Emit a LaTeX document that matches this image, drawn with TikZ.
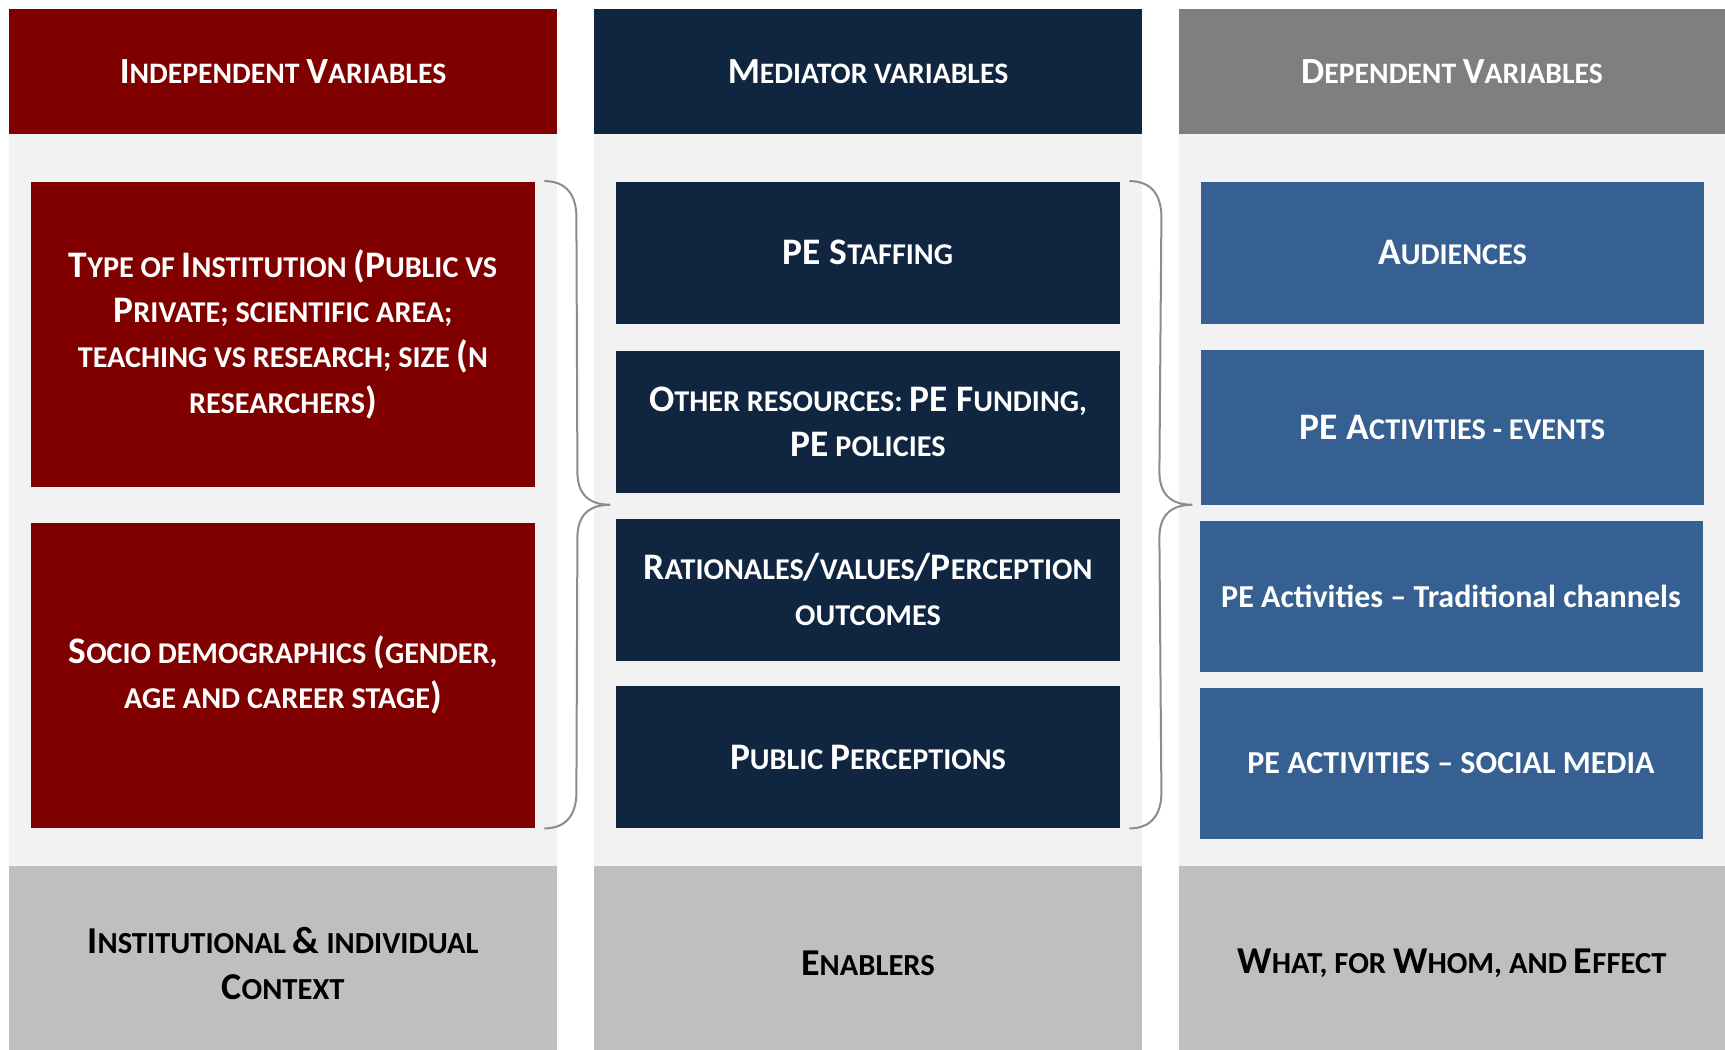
\documentclass[tikz,border=0pt]{standalone}
\usepackage{fontspec}
\setmainfont{Carlito}
\usepackage{graphicx}
\usetikzlibrary{calc}

\definecolor{ivred}{HTML}{800000}
\definecolor{mednavy}{HTML}{10253F}
\definecolor{depblue}{HTML}{366092}
\definecolor{hdrgray}{HTML}{7F7F7F}
\definecolor{ftrgray}{HTML}{BFBFBF}
\definecolor{panelgray}{HTML}{F2F2F2}
\definecolor{bracegray}{HTML}{8C8C8C}

\newcommand{\Up}[1]{\scalebox{1.24}{#1}}

\begin{document}
\begin{tikzpicture}[x=0.5pt, y=-0.5pt]
			\tikzstyle{label}   = [align=center, font=\fontsize{15.1}{22.6}\selectfont\bfseries]
			\tikzstyle{hdr}     = [label, rectangle, inner sep=0pt, text=white, minimum width=274pt, minimum height=62.5pt, font=\fontsize{14.85}{22.6}\selectfont\bfseries]
			\tikzstyle{ftr}     = [label, rectangle, inner sep=0pt, fill=ftrgray, text=black, minimum width=274pt, minimum height=97.5pt, font=\fontsize{15.3}{22.6}\selectfont\bfseries]
			\tikzstyle{ivbox}   = [label, rectangle, inner sep=0pt, fill=ivred, text=white, minimum width=252pt, minimum height=152.75pt]
			\tikzstyle{medbox}  = [label, rectangle, inner sep=0pt, fill=mednavy, text=white, minimum width=252pt, minimum height=71pt]
			\tikzstyle{depbox}  = [label, rectangle, inner sep=0pt, fill=depblue, text=white, minimum width=251.5pt]
			\tikzstyle{plain}   = [font=\fontsize{16}{22.6}\selectfont\bfseries]
			\tikzstyle{brace}   = [draw=bracegray, line width=1pt]

			\useasboundingbox (0,0) rectangle (1725,1050);

%			\draw[step=100, gray!50] (0,0) grid (1725,1050);

			\foreach \x/\w in {9/548, 594/548, 1179/546}
				\fill[panelgray] (\x,134) rectangle ++(\w,732);

			% headers and footers
			\node[hdr, fill=ivred]   (hdr1) at (283, 71.5)  {\Up{I}NDEPENDENT \Up{V}ARIABLES};
			\node[hdr, fill=mednavy] (hdr2) at (868, 71.5)  {\Up{M}EDIATOR VARIABLES};
			\node[hdr, fill=hdrgray, minimum width=273pt] (hdr3) at (1452, 71.5) {\Up{D}EPENDENT \Up{V}ARIABLES};

			\node[ftr] (ftr1) at (283, 963.5) {\Up{I}NSTITUTIONAL \Up{\&} INDIVIDUAL\\\Up{C}ONTEXT};
			\node[ftr] (ftr2) at (868, 963.5) {\Up{E}NABLERS};
			\node[ftr, minimum width=273pt] (ftr3) at (1452, 963.5) {\Up{W}HAT, FOR \Up{W}HOM, AND \Up{E}FFECT};

			% independent
			\node[ivbox] (ind1) at (283, 334.25) {\Up{T}YPE OF \Up{I}NSTITUTION \Up{(P}UBLIC VS\\\Up{P}RIVATE; SCIENTIFIC AREA;\\TEACHING VS RESEARCH; SIZE \Up{(}N\\RESEARCHERS\Up{)}};
			\node[ivbox] (ind2) at (283, 675.25) {\Up{S}OCIO DEMOGRAPHICS \Up{(}GENDER,\\AGE AND CAREER STAGE\Up{)}};

			% mediators
			\node[medbox] (med1) at (868, 252.5) {\Up{PE S}TAFFING};
			\node[medbox] (med2) at (868, 421.5) {\Up{O}THER RESOURCES: \Up{PE F}UNDING,\\\Up{PE} POLICIES};
			\node[medbox] (med3) at (868, 589.5) {\Up{R}ATIONALES\Up{/}VALUES\Up{/P}ERCEPTION\\OUTCOMES};
			\node[medbox] (med4) at (868, 757)   {\Up{P}UBLIC \Up{P}ERCEPTIONS};

			% dependent
			\node[depbox, minimum height=71pt]   (dep1) at (1452.5, 252.5) {\Up{A}UDIENCES};
			\node[depbox, minimum height=77.5pt] (dep2) at (1452.5, 427.5) {\Up{PE A}CTIVITIES - EVENTS};
			\node[depbox, plain, minimum height=75.5pt] (dep3) at (1451, 596.5) {PE Activities – Traditional channels};
			\node[depbox, plain, minimum height=75.5pt] (dep4) at (1451, 763) {PE ACTIVITIES – SOCIAL MEDIA};

			% braces
			\foreach \boxa/\boxb/\tipx in {ind1/ind2/75, med1/med4/72} {
				\coordinate (s) at ($(\boxa.north east)+(9,0)$);
				\coordinate (e) at ($(\boxb.south east)+(9,0)$);
				\coordinate (tip) at ($(\boxa.north east)!0.5!(\boxb.south east)+(\tipx,0)$);
				\draw[brace] (s) .. controls +(22,0) and +(0,-22) .. ++(32,36)
					-- ($(tip)+(-33,-33)$) .. controls +(0,22) and +(-22,0) .. (tip)
					.. controls +(-22,0) and +(0,-22) .. ++(-33,33)
					-- ($(e)+(32,-36)$) .. controls +(0,22) and +(22,0) .. (e);
			}

		\end{tikzpicture}
\end{document}
